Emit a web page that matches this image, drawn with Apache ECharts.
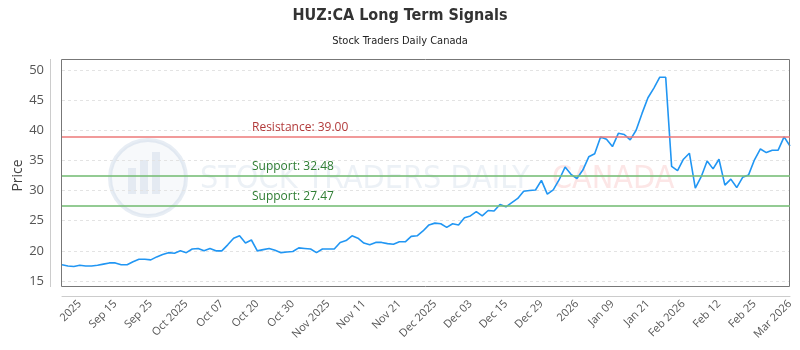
<!DOCTYPE html>
<html>
<head>
<meta charset="utf-8">
<script src="https://cdn.jsdelivr.net/npm/echarts@6/dist/echarts.min.js"></script>
<style>
html,body{margin:0;padding:0;background:#fff;}
#chart{width:800px;height:350px;}
</style>
</head>
<body>
<div id="chart"></div>
<script>
// ---- data ----
const titleText = 'HUZ:CA Long Term Signals';
const subtitleText = 'Stock Traders Daily Canada';
const yAxisName = 'Price';

const prices = [
  17.7, 17.5, 17.4, 17.6, 17.5, 17.5, 17.6, 17.8, 18.0, 18.0,
  17.7, 17.7, 18.2, 18.6, 18.6, 18.5, 19.0, 19.4, 19.7, 19.6,
  20.0, 19.7, 20.3, 20.4, 20.0, 20.4, 20.0, 20.0, 21.0, 22.1,
  22.5, 21.3, 21.8, 20.0, 20.2, 20.4, 20.1, 19.7, 19.8, 19.9,
  20.5, 20.4, 20.3, 19.7, 20.3, 20.3, 20.3, 21.4, 21.7, 22.5,
  22.1, 21.3, 21.0, 21.4, 21.4, 21.2, 21.1, 21.5, 21.5, 22.4,
  22.5, 23.3, 24.3, 24.6, 24.5, 23.9, 24.5, 24.3, 25.5, 25.8,
  26.5, 25.8, 26.7, 26.6, 27.7, 27.3, 28.0, 28.7, 29.9, 30.0,
  30.1, 31.7, 29.4, 30.1, 31.8, 33.9, 32.7, 32.0, 33.4, 35.6,
  36.1, 38.9, 38.5, 37.3, 39.5, 39.3, 38.4, 40.0, 42.8, 45.4,
  47.0, 48.8, 48.8, 34.0, 33.3, 35.2, 36.2, 30.4, 32.3, 34.9,
  33.6, 35.2, 30.9, 31.9, 30.5, 32.2, 32.6, 35.1, 36.9, 36.3,
  36.7, 36.7, 38.9, 37.4
];

const tickLabels = [
  '2025', 'Sep 15', 'Sep 25', 'Oct 2025', 'Oct 07', 'Oct 20', 'Oct 30',
  'Nov 2025', 'Nov 11', 'Nov 21', 'Dec 2025', 'Dec 03', 'Dec 15', 'Dec 29',
  '2026', 'Jan 09', 'Jan 21', 'Feb 2026', 'Feb 12', 'Feb 25', 'Mar 2026'
];
const tickEvery = 6;
const tickStart = 3;

const resistanceLevels = [39.00];
const supportLevels = [32.48, 27.47];

const yMin = 15, yMax = 50, yStep = 5;

// ---- build ----
const categories = prices.map((_, i) => String(i));
const labelAt = {};
tickLabels.forEach((t, k) => { labelAt[tickStart + k * tickEvery] = t; });

const markData = [];
resistanceLevels.forEach(v => markData.push({
  yAxis: v,
  lineStyle: { color: 'rgba(236,120,120,0.75)', width: 2, type: 'solid' },
  label: { formatter: 'Resistance: ' + v.toFixed(2), color: '#b23a3a' }
}));
supportLevels.forEach(v => markData.push({
  yAxis: v,
  lineStyle: { color: 'rgba(120,190,120,0.8)', width: 2, type: 'solid' },
  label: { formatter: 'Support: ' + v.toFixed(2), color: '#2e7d32' }
}));

const chart = echarts.init(document.getElementById('chart'), null, { renderer: 'canvas' });
chart.setOption({
  animation: false,
  backgroundColor: '#fff',
  title: {
    text: titleText,
    subtext: subtitleText,
    left: 'center',
    top: 3,
    itemGap: 12,
    textStyle: { fontFamily: 'DejaVu Sans Condensed', fontWeight: 'bold', fontSize: 16, color: '#333' },
    subtextStyle: { fontFamily: 'DejaVu Sans Condensed', fontSize: 11, color: '#222' }
  },
  graphic: [
    {
      type: 'group', silent: true, z: 0,
      children: [
        { type: 'circle', shape: { cx: 148, cy: 178, r: 38 },
          style: { fill: 'rgba(200,212,230,0.15)', stroke: 'rgba(170,190,215,0.28)', lineWidth: 4 } },
        { type: 'rect', shape: { x: 128, y: 168, width: 8, height: 26 }, style: { fill: 'rgba(170,190,215,0.25)' } },
        { type: 'rect', shape: { x: 140, y: 160, width: 8, height: 34 }, style: { fill: 'rgba(170,190,215,0.25)' } },
        { type: 'rect', shape: { x: 152, y: 152, width: 8, height: 42 }, style: { fill: 'rgba(170,190,215,0.25)' } },
        { type: 'text', style: { x: 200, y: 180, text: 'STOCK TRADERS DAILY', fontFamily: 'DejaVu Sans Condensed',
          fontSize: 32, fill: 'rgba(170,190,215,0.22)', verticalAlign: 'middle' } },
        { type: 'text', style: { x: 552, y: 180, text: 'CANADA', fontFamily: 'DejaVu Sans Condensed',
          fontSize: 32, fill: 'rgba(240,140,140,0.22)', verticalAlign: 'middle' } }
      ]
    },
    // plot frame and detached y axis line (decoration)
    { type: 'rect', silent: true, z: 5, shape: { x: 61.5, y: 59.5, width: 728, height: 227 },
      style: { fill: 'none', stroke: '#777', lineWidth: 1 } },
    { type: 'line', silent: true, z: 5, shape: { x1: 50.5, y1: 59, x2: 50.5, y2: 287 },
      style: { stroke: '#ccc', lineWidth: 1 } }
  ],
  grid: {
    left: 62, right: 10, top: 70, bottom: 69,
    show: false,
    containLabel: false,
    outerBoundsMode: 'none'
  },
  xAxis: {
    type: 'category',
    data: categories,
    boundaryGap: false,
    offset: 15,
    axisLine: { show: true, lineStyle: { color: '#ccc' } },
    axisTick: { show: false },
    splitLine: { show: false },
    axisLabel: {
      rotate: 45,
      interval: (i) => labelAt[i] !== undefined,
      formatter: (v, i) => labelAt[i] || '',
      color: '#555',
      fontSize: 11,
      fontFamily: 'Open Sans',
      margin: 6
    }
  },
  yAxis: {
    type: 'value',
    min: yMin, max: yMax, interval: yStep,
    offset: 12,
    name: yAxisName,
    nameLocation: 'middle',
    nameGap: 25,
    nameMoveOverlap: false,
    nameTextStyle: { color: '#444', fontSize: 14, fontFamily: 'Open Sans' },
    axisLine: { show: false },
    axisTick: { show: false },
    axisLabel: { color: '#555', fontSize: 13, fontFamily: 'Open Sans', margin: 6 },
    splitLine: { show: true, lineStyle: { color: '#e3e3e3', type: [3, 3] } }
  },
  series: [
    {
      type: 'line',
      data: prices,
      showSymbol: false,
      smooth: false,
      clip: false,
      lineStyle: { color: '#2196f3', width: 1.6 },
      itemStyle: { color: '#2196f3' },
      z: 3,
      markLine: {
        silent: true,
        symbol: 'none',
        animation: false,
        label: { show: true, position: 'insideStartTop', distance: [190, 3], fontSize: 12, fontFamily: 'Open Sans' },
        data: markData
      }
    }
  ]
});
</script>
</body>
</html>
